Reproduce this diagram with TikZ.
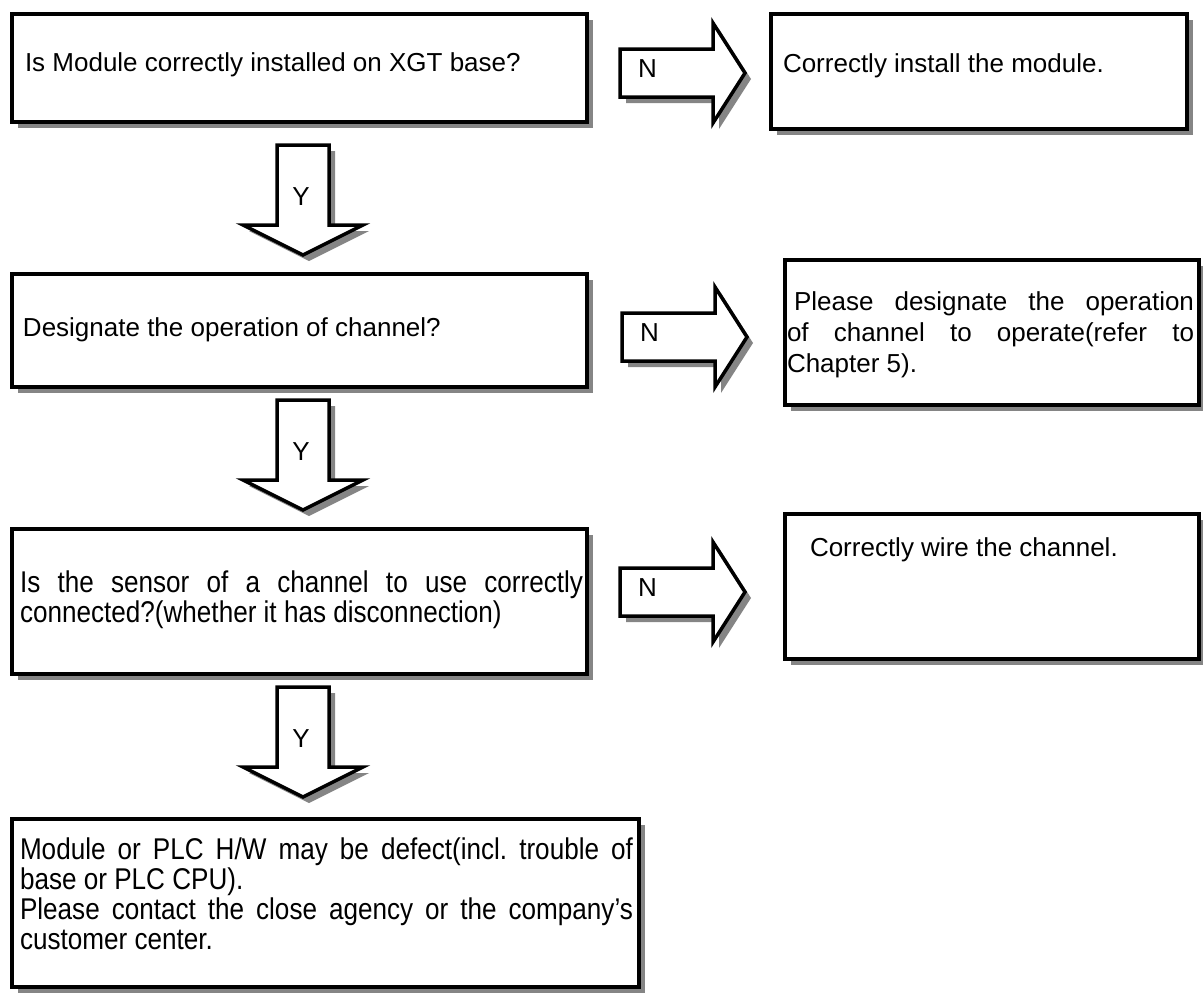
\documentclass[tikz,border=0pt]{standalone}
\usepackage{fontspec}
\setmainfont{Liberation Sans}
\newfontfamily\narrowfont{Liberation Sans}[FakeStretch=0.87]
\usetikzlibrary{shadows}
\tikzset{
  shd/.style={drop shadow={shadow xshift=6pt, shadow yshift=-6pt, fill=black!48, opacity=1}},
  flowbox/.style={draw=black, line width=4pt, fill=white, shd, inner sep=0pt, anchor=north west},
  blockarrow/.style={draw=black, line width=3.5pt, fill=white, line join=miter, miter limit=10, shd},
  txt/.style={inner sep=0pt, outer sep=0pt, anchor=base west, font=\fontsize{26}{30}\selectfont},
  ntxt/.style={txt, font=\narrowfont\fontsize{30}{30}\selectfont},
}
\newcommand\rightblock[3]{% name, x left, y centre
  \path[blockarrow] (#2,#3-24) -- (#2+93,#3-24) -- (#2+93,#3-50) -- (#2+125,#3) -- (#2+93,#3+50) -- (#2+93,#3+24) -- (#2,#3+24) -- cycle;
  \node[txt] (#1) at (#2+18,#3+4) {N};}
\newcommand\downblock[3]{% name, x centre, y top
  \path[blockarrow] (#2-26,#3) -- (#2+26,#3) -- (#2+26,#3+80) -- (#2+60,#3+80) -- (#2,#3+110) -- (#2-60,#3+80) -- (#2-26,#3+80) -- cycle;
  \node[txt, anchor=base] (#1) at (#2-2,#3+60) {Y};}
\begin{document}
\frenchspacing
\begin{tikzpicture}[x=1pt, y=-1pt]
\useasboundingbox (0,0) rectangle (1203,997);

% decision boxes
\node[flowbox, minimum width=575pt, minimum height=108pt] (b1) at (10,12) {};
\node[flowbox, minimum width=575pt, minimum height=113pt] (b2) at (10,272) {};
\node[flowbox, minimum width=575pt, minimum height=145pt] (b3) at (10,527) {};
\node[flowbox, minimum width=627pt, minimum height=168pt] (b4) at (10,817) {};
% action boxes
\node[flowbox, minimum width=416pt, minimum height=115pt] (r1) at (769,12) {};
\node[flowbox, minimum width=414pt, minimum height=145pt] (r2) at (783,258) {};
\node[flowbox, minimum width=414pt, minimum height=145pt] (r3) at (783,512) {};

% block arrows
\rightblock{n1}{620}{73}
\rightblock{n2}{622}{337}
\rightblock{n3}{620}{592}
\downblock{y1}{303}{145}
\downblock{y2}{303}{400}
\downblock{y3}{303}{687}

% texts
\node[txt] (t1) at (25,71) {Is Module correctly installed on XGT base?};
\node[txt] (tr1) at (783,72) {Correctly install the module.};
\node[txt] (t2) at (23,336) {Designate the operation of channel?};
\node[txt] (tr2a) at (787,310) {\makebox[407pt][s]{\hspace*{7pt}Please designate the operation}};
\node[txt] (tr2b) at (787,341) {\makebox[407pt][s]{of channel to operate(refer to}};
\node[txt] (tr2c) at (787,372) {Chapter 5).};
\node[ntxt] (t3a) at (20,592) {\makebox[563pt][s]{Is the sensor of a channel to use correctly}};
\node[ntxt] (t3b) at (20,622) {connected?(whether it has disconnection)};
\node[txt] (tr3) at (810,556) {Correctly wire the channel.};
\node[ntxt] (t4a) at (20,859) {\makebox[613pt][s]{Module or PLC H/W may be defect(incl. trouble of}};
\node[ntxt] (t4b) at (20,889) {base or PLC CPU).};
\node[ntxt] (t4c) at (20,919) {\makebox[613pt][s]{Please contact the close agency or the company’s}};
\node[ntxt] (t4d) at (20,949) {customer center.};
\end{tikzpicture}
\end{document}
